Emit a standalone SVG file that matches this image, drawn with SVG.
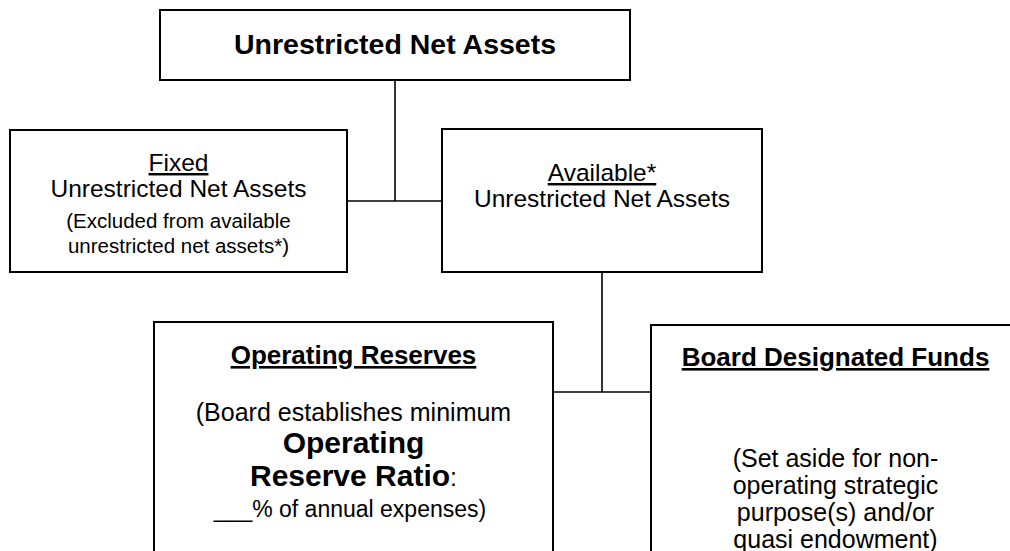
<svg xmlns="http://www.w3.org/2000/svg" width="1010" height="551" viewBox="0 0 1010 551">
  <style>
    .box { fill: #ffffff; stroke: #000000; stroke-width: 2; }
    .wire { fill: none; stroke: #000000; stroke-width: 1.6; }
    text { font-family: "Liberation Sans", Arial, sans-serif; fill: #000000; text-anchor: middle; }
    .title { font-size: 28.5px; font-weight: bold; }
    .head { font-size: 26px; font-weight: bold; text-decoration: underline; }
    .body { font-size: 24.5px; }
    .small { font-size: 20.5px; }
    .note { font-size: 25px; }
    .tail { font-size: 23px; }
    .big { font-size: 30px; font-weight: bold; }
    .ul { text-decoration: underline; }
  </style>
  <rect width="1010" height="551" fill="#ffffff"/>

  <!-- connectors -->
  <g id="connectors">
    <path class="wire" d="M395 80 V201"/>
    <path class="wire" d="M347 201 H442"/>
    <path class="wire" d="M602 272 V392"/>
    <path class="wire" d="M553 392 H651"/>
  </g>

  <g id="unrestricted">
    <rect class="box" x="160" y="10" width="470" height="70"/>
    <text class="title" x="395" y="54">Unrestricted Net Assets</text>
  </g>

  <g id="fixed">
    <rect class="box" x="10" y="130" width="337" height="142"/>
    <text class="body ul" x="178.5" y="171">Fixed</text>
    <text class="body" x="178.5" y="197">Unrestricted Net Assets</text>
    <text class="small" x="178.5" y="228">(Excluded from available</text>
    <text class="small" x="178.5" y="253">unrestricted net assets*)</text>
  </g>

  <g id="available">
    <rect class="box" x="442" y="129" width="320" height="143"/>
    <text class="body ul" x="602" y="181">Available*</text>
    <text class="body" x="602" y="207">Unrestricted Net Assets</text>
  </g>

  <g id="operating-reserves">
    <rect class="box" x="154" y="322" width="399" height="250"/>
    <text class="head" x="353.5" y="364">Operating Reserves</text>
    <text class="note" x="353.5" y="421">(Board establishes minimum</text>
    <text class="big" x="353.5" y="453">Operating</text>
    <text class="big" x="353.5" y="486">Reserve Ratio<tspan class="note" font-weight="normal">:</tspan></text>
    <text class="tail" x="350" y="517">___% of annual expenses)</text>
  </g>

  <g id="board-designated">
    <rect class="box" x="651" y="325" width="370" height="250"/>
    <text class="head" x="835.5" y="366">Board Designated Funds</text>
    <text class="note" x="835.5" y="467">(Set aside for non-</text>
    <text class="note" x="835.5" y="494">operating strategic</text>
    <text class="note" x="835.5" y="521">purpose(s) and/or</text>
    <text class="note" x="835.5" y="548">quasi endowment)</text>
  </g>
</svg>
